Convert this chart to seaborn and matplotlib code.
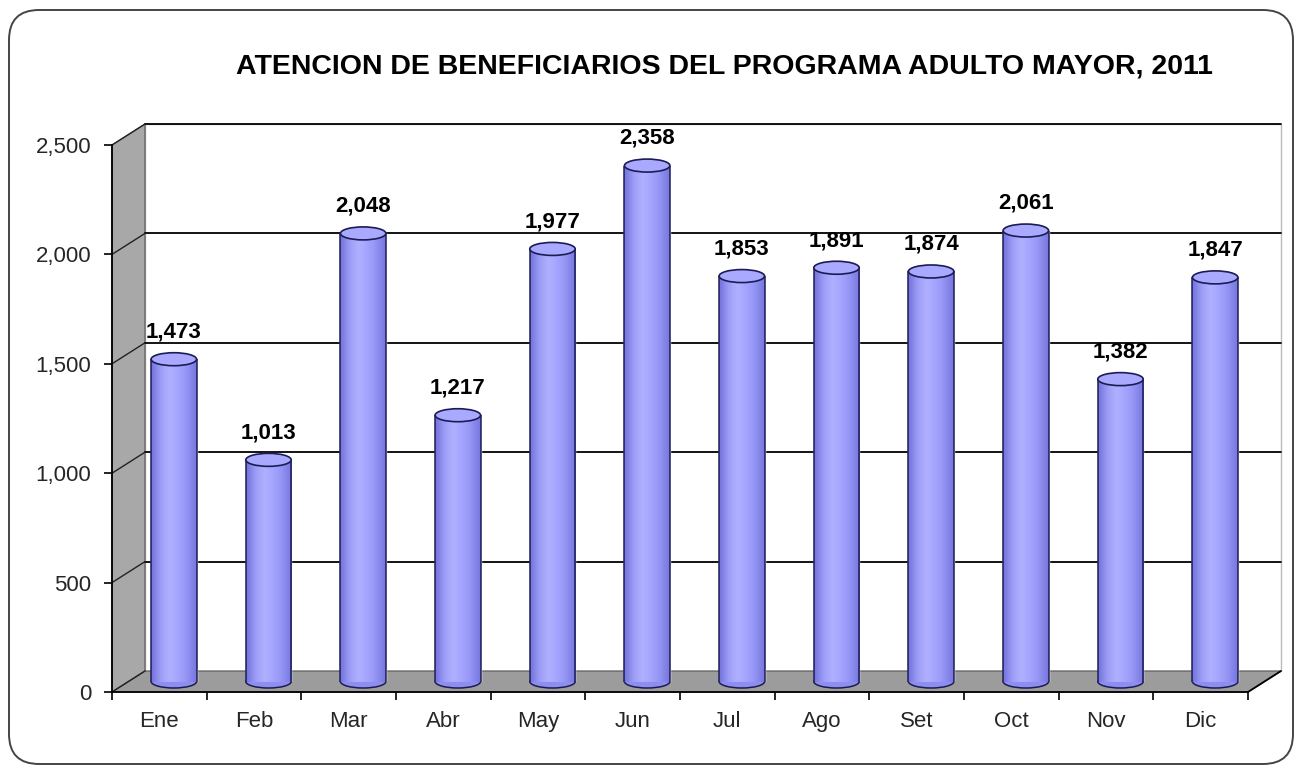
import numpy as np
import matplotlib
matplotlib.use('Agg')
import matplotlib.pyplot as plt
from matplotlib.patches import Polygon, Ellipse, FancyBboxPatch
from matplotlib.colors import LinearSegmentedColormap
from matplotlib.ticker import FuncFormatter, MultipleLocator
import seaborn as sns

# ---------------------------------------------------------------- data
months = ['Ene', 'Feb', 'Mar', 'Abr', 'May', 'Jun',
          'Jul', 'Ago', 'Set', 'Oct', 'Nov', 'Dic']
beneficiarios = [1473, 1013, 2048, 1217, 1977, 2358,
                 1853, 1891, 1874, 2061, 1382, 1847]
y_ticks = [0, 500, 1000, 1500, 2000, 2500]
title = 'ATENCION DE BENEFICIARIOS DEL PROGRAMA ADULTO MAYOR, 2011'

# ---------------------------------------------------------------- style
sns.set_theme(style='white')
plt.rcParams['font.family'] = ['Liberation Sans', 'DejaVu Sans']

W, H = 1303, 772
fig = plt.figure(figsize=(W / 100, H / 100), dpi=100)

# front plane of the "3d" chart in pixels
left_px, right_px, top_px, bottom_px = 112, 1248, 145, 692
DX, DY = 33, 21          # depth of the box in pixels
ax = fig.add_axes([left_px / W, 1 - bottom_px / H,
                   (right_px - left_px) / W, (bottom_px - top_px) / H])
ax.set_xlim(-0.5, 11.5)
ax.set_ylim(0, 2500)
ax.set_facecolor('none')

# depth in data units
dxd = DX * 12 / (right_px - left_px)
dyd = DY * 2500 / (bottom_px - top_px)

# rounded outer frame
frame = FancyBboxPatch((0.09, 0.08), W / 100 - 0.19, H / 100 - 0.18,
                       boxstyle='round,pad=0,rounding_size=0.3',
                       transform=fig.dpi_scale_trans, fc='white',
                       ec='#444444', lw=1.4, zorder=-10)
fig.patches.append(frame)

# back wall
back = Polygon([(-0.5 + dxd, dyd), (11.5 + dxd, dyd),
                (11.5 + dxd, 2500 + dyd), (-0.5 + dxd, 2500 + dyd)],
               closed=True, fc='white', ec='#bbbbbb', lw=1.0,
               clip_on=False, zorder=0)
ax.add_patch(back)

# left wall
lwall = Polygon([(-0.5, 0), (-0.5, 2500), (-0.5 + dxd, 2500 + dyd),
                 (-0.5 + dxd, dyd)], closed=True, fc='#a8a8a8',
                ec='#555555', lw=0.8, clip_on=False, zorder=1)
ax.add_patch(lwall)

# floor
floor = Polygon([(-0.5, 0), (11.5, 0), (11.5 + dxd, dyd), (-0.5 + dxd, dyd)],
                closed=True, fc='#9c9c9c', ec='#555555', lw=0.8,
                clip_on=False, zorder=1)
ax.add_patch(floor)
ax.plot([11.5, 11.5 + dxd], [0, dyd], color='black', lw=1.3,
        clip_on=False, zorder=2)

# grid lines on back wall and left wall
for v in y_ticks[1:]:
    ax.plot([-0.5 + dxd, 11.5 + dxd], [v + dyd, v + dyd], color='black',
            lw=1.3, clip_on=False, zorder=2)
    ax.plot([-0.5, -0.5 + dxd], [v, v + dyd], color='#222222', lw=1.0,
            clip_on=False, zorder=2)
ax.plot([-0.5, -0.5 + dxd], [0, dyd], color='#222222', lw=1.0,
        clip_on=False, zorder=2)

# axes / ticks
for s in ['top', 'right']:
    ax.spines[s].set_visible(False)
for s in ['left', 'bottom']:
    ax.spines[s].set_color('black')
    ax.spines[s].set_linewidth(1.3)
    ax.spines[s].set_zorder(3)
ax.set_yticks(y_ticks)
ax.yaxis.set_major_formatter(FuncFormatter(lambda v, p: f'{int(v):,}'))
ax.set_xticks(range(len(months)))
ax.set_xticklabels(months)
ax.xaxis.set_minor_locator(MultipleLocator(1, offset=0.5))
ax.tick_params(axis='y', which='major', direction='out', length=6, width=1.2,
               color='black', labelsize=16, pad=9, left=True)
ax.tick_params(axis='x', which='major', length=0, labelsize=16, pad=14)
ax.tick_params(axis='x', which='minor', direction='out', length=6, width=1.2,
               color='black', bottom=True)

# bars at middle depth
bx, by = DX / 2 - 2, DY / 2
ax_bars = fig.add_axes([(left_px + bx) / W, 1 - (bottom_px - by) / H,
                        (right_px - left_px) / W, (bottom_px - top_px) / H])
ax_bars.set_facecolor('none')

bar_w = 0.48
sns.barplot(x=months, y=beneficiarios, color='#9999ff', width=bar_w,
            saturation=1, ax=ax_bars, zorder=3)
ax_bars.set_xlim(-0.5, 11.5)
ax_bars.set_ylim(0, 2500)
ax_bars.axis('off')

cyl = LinearSegmentedColormap.from_list(
    'cyl', ['#7272dc', '#9c9cf6', '#b0b0ff', '#a4a4ff', '#9292f2', '#7676de'])
grad = np.linspace(0, 1, 64).reshape(1, -1)
ell_h = 13 * 2500 / (bottom_px - top_px)
edge = '#1c1c55'

for i, (p, v) in enumerate(zip(list(ax_bars.patches), beneficiarios)):
    x0 = p.get_x()
    w = p.get_width()
    xc = x0 + w / 2
    # bottom of cylinder
    ax_bars.add_patch(Ellipse((xc, 0), w, ell_h, fc='#8e8ef0', ec=edge,
                              lw=1.1, zorder=2, clip_on=False))
    # shaded body
    im = ax_bars.imshow(grad, cmap=cyl, aspect='auto',
                        extent=[x0, x0 + w, 0, v], zorder=4)
    im.set_clip_path(p)
    ax_bars.vlines([x0, x0 + w], 0, v, color=edge, lw=1.1, zorder=5)
    # top of cylinder
    ax_bars.add_patch(Ellipse((xc, v), w, ell_h, fc='#a9a9ff', ec=edge,
                              lw=1.2, zorder=6, clip_on=False))
    ax_bars.annotate(f'{v:,}', (xc, v), xytext=(0, 12),
                     textcoords='offset points', ha='center', va='bottom',
                     fontsize=16, fontweight='bold', color='black',
                     annotation_clip=False)

ax_bars.set_xlim(-0.5, 11.5)
ax_bars.set_ylim(0, 2500)

fig.text(724 / W, 1 - 66 / H, title, ha='center', va='center',
         fontsize=20.5, fontweight='bold', color='black')

fig.savefig('out.png', dpi=100)
